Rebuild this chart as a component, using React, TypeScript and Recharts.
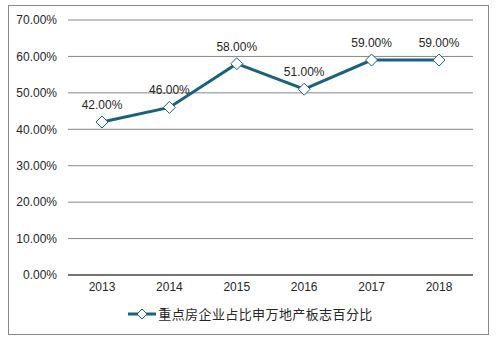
import { LineChart, Line, XAxis, YAxis, CartesianGrid, Legend, LabelList } from 'recharts';

const years = ['2013', '2014', '2015', '2016', '2017', '2018'];
const shares = [42, 46, 58, 51, 59, 59];
const yTicks = [0, 10, 20, 30, 40, 50, 60, 70];
const seriesName = '重点房企业占比申万地产板志百分比';

const data = years.map((year, i) => ({ year, share: shares[i] }));

const LINE = '#17627f';
const pct = (v: number) => `${v.toFixed(2)}%`;

const Diamond = (props: any) => {
  const { cx, cy } = props;
  if (cx == null || cy == null) return null;
  const r = 6;
  return (
    <path
      d={`M${cx},${cy - r}L${cx + r},${cy}L${cx},${cy + r}L${cx - r},${cy}Z`}
      fill="#fff"
      stroke={LINE}
      strokeWidth={1}
    />
  );
};

const LegendBox = () => (
  <div style={{ height: 29, boxSizing: 'border-box', display: 'flex', justifyContent: 'center', alignItems: 'flex-start', paddingTop: 2, paddingLeft: 18 }}>
    <svg width={30} height={14} style={{ marginRight: 1 }}>
      <line x1={1} y1={7} x2={29} y2={7} stroke={LINE} strokeWidth={3} />
      <path d="M15,2L20,7L15,12L10,7Z" fill="#fff" stroke={LINE} strokeWidth={1} />
    </svg>
    <span style={{ fontFamily: '"Noto Sans CJK SC", sans-serif', fontSize: 13, color: '#262626', lineHeight: '14px', letterSpacing: 0.4 }}>
      {seriesName}
    </span>
  </div>
);

export default function App() {
  return (
    <div style={{ position: 'absolute', left: 0, top: 0, width: 502, height: 341, background: '#fff' }}>
      <div
        style={{
          position: 'absolute',
          left: 8,
          top: 5,
          width: 481,
          height: 330,
          border: '1px solid #898989',
          boxSizing: 'border-box',
        }}
      >
        <LineChart width={479} height={328} data={data} margin={{ top: 14, right: 15, left: 0, bottom: 0 }}>
          <CartesianGrid vertical={false} stroke="#878787" strokeWidth={1} />
          <XAxis
            dataKey="year"
            height={30}
            padding={{ left: 34, right: 34 }}
            tickLine={false}
            axisLine={{ stroke: '#262626' }}
            tick={{ fontSize: 12, fill: '#262626', fontFamily: '"Liberation Sans", Arial, sans-serif' }}
            tickSize={0}
            tickMargin={7}
          />
          <YAxis
            width={59}
            domain={[0, 70]}
            ticks={yTicks}
            tickFormatter={pct}
            axisLine={false}
            tickLine={false}
            tickSize={0}
            tickMargin={11}
            tick={{ fontSize: 12, fill: '#262626', fontFamily: '"Liberation Sans", Arial, sans-serif' }}
          />
          <Legend verticalAlign="bottom" content={<LegendBox />} />
          <Line
            dataKey="share"
            name={seriesName}
            stroke={LINE}
            strokeWidth={3}
            dot={<Diamond />}
            activeDot={false}
            isAnimationActive={false}
          >
            <LabelList
              dataKey="share"
              position="top"
              offset={13}
              formatter={(v: any) => pct(Number(v))}
              style={{ fontSize: 12, fill: '#262626', fontFamily: '"Liberation Sans", Arial, sans-serif' }}
            />
          </Line>
        </LineChart>
      </div>
    </div>
  );
}
